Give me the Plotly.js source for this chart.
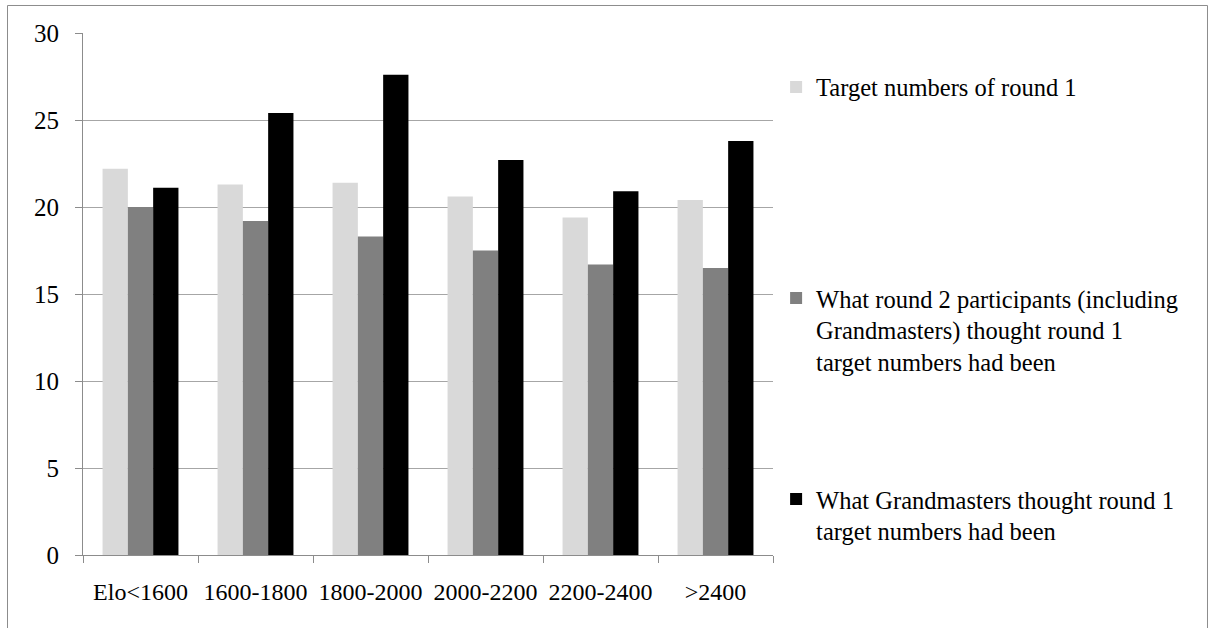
<!DOCTYPE html>
<html>
<head>
<meta charset="utf-8">
<script src="https://cdn.plot.ly/plotly-3.0.1.min.js"></script>
<style>html,body{margin:0;padding:0;background:#fff;}#chart{width:1210px;height:628px;}</style>
</head>
<body>
<div id="chart"></div>
<script>
const categories = ["Elo<1600", "1600-1800", "1800-2000", "2000-2200", "2200-2400", ">2400"];
const seriesNames = [
  "Target numbers of round 1",
  "What round 2 participants (including<br>Grandmasters) thought round 1<br>target numbers had been",
  "What Grandmasters thought round 1<br>target numbers had been"
];
const targetRound1 = [22.2, 21.3, 21.4, 20.6, 19.4, 20.4];
const round2Thought = [20.0, 19.2, 18.3, 17.5, 16.7, 16.5];
const gmThought = [21.1, 25.4, 27.6, 22.7, 20.9, 23.8];
const yTicks = [0, 5, 10, 15, 20, 25, 30];

const colors = ["#d9d9d9", "#808080", "#000000"];
const values = [targetRound1, round2Thought, gmThought];
const legends = ["legend", "legend2", "legend3"];

const traces = values.map((v, i) => ({
  type: "bar",
  x: categories,
  y: v,
  name: seriesNames[i],
  marker: { color: colors[i], line: { width: 0 } },
  legend: legends[i],
  hoverinfo: "x+y"
}));

const FAM = "Liberation Serif";
function mkFont(size) { return { family: FAM, size: size, color: "#000" }; }
function mkLegend(y) {
  return {
    x: 1.0045, xanchor: "left", y: y, yanchor: "middle",
    bgcolor: "rgba(0,0,0,0)", borderwidth: 0, valign: "top",
    font: mkFont(24.5), itemwidth: 30, itemclick: false
  };
}

const layout = {
  width: 1210, height: 628,
  margin: { l: 83, r: 437, t: 33, b: 73 },
  paper_bgcolor: "#fff", plot_bgcolor: "#fff",
  font: mkFont(23),
  barmode: "group",
  bargap: 0.34,
  bargroupgap: 0,
  showlegend: true,
  legend: mkLegend(0.8966),
  legend2: mkLegend(0.431),
  legend3: mkLegend(0.0766),
  xaxis: {
    type: "category",
    showline: true, linecolor: "#8c8c8c", linewidth: 1,
    ticks: "outside", tickson: "boundaries", ticklen: 7, tickcolor: "#8c8c8c",
    showgrid: false, zeroline: false,
    tickfont: mkFont(24),
    ticklabelstandoff: 15,
    fixedrange: true
  },
  yaxis: {
    range: [0, 30],
    tickvals: yTicks,
    ticktext: yTicks.map(String),
    showline: true, linecolor: "#8c8c8c", linewidth: 1,
    ticks: "outside", ticklen: 7, tickcolor: "#8c8c8c",
    showgrid: true, gridcolor: "#a6a6a6", gridwidth: 1,
    zeroline: false,
    tickfont: mkFont(25),
    ticklabelstandoff: 11,
    fixedrange: true
  },
  shapes: [{
    type: "rect", xref: "paper", yref: "paper",
    x0: -0.1094, x1: 1.6297, y0: -0.2, y1: 1.0527,
    line: { color: "#8c8c8c", width: 1 }, fillcolor: "rgba(0,0,0,0)", layer: "below"
  }]
};

Plotly.newPlot("chart", traces, layout, { displayModeBar: false, staticPlot: true });
</script>
</body>
</html>
